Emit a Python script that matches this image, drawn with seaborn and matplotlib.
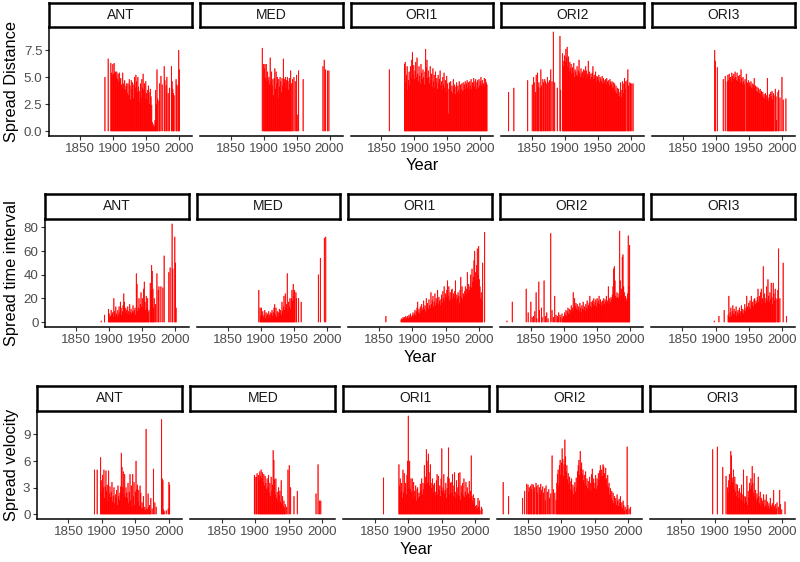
import numpy as np
import pandas as pd
import matplotlib
matplotlib.use("Agg")
import matplotlib.pyplot as plt
import seaborn as sns

# theme first, then the font list (set_theme resets font.family)
sns.set_theme(style="white")
plt.rcParams['font.family'] = ['Liberation Sans', 'DejaVu Sans']

regions = ["ANT", "MED", "ORI1", "ORI2", "ORI3"]
measures = ["Spread Distance", "Spread time interval", "Spread velocity"]
year_ticks = [1850, 1900, 1950, 2000]
dist_ticks = [0, 2.5, 5.0, 7.5]
dist_tick_labels = ["0.0", "2.5", "5.0", "7.5"]
time_ticks = [0, 20, 40, 60, 80]
time_tick_labels = ["0", "20", "40", "60", "80"]
vel_ticks = [0, 3, 6, 9]
vel_tick_labels = ["0", "3", "6", "9"]

# one value per year from the start year on; 0 = nothing recorded that year
# ---- Spread Distance
ant_dist_start = 1888
ant_dist = [5.0, 0, 0, 0, 0, 6.7, 0, 0, 0,
            6.3, 5.4, 5.2, 6.2, 5.3, 6.3, 5.4, 5.5, 5.0, 5.5,
            4.8, 5.3, 4.6, 5.4, 4.7, 4.9, 4.3, 4.0, 5.4, 4.4,
            3.9, 4.7, 3.8, 4.2, 4.4, 3.5, 4.4, 3.3, 4.8, 4.2,
            2.9, 4.7, 3.9, 4.5, 3.0, 4.3, 5.0, 4.0, 5.2, 4.6,
            3.6, 5.0, 4.1, 3.7, 2.7, 4.4, 3.1, 4.8, 4.0, 5.3,
            3.8, 4.4, 3.0, 4.6, 3.5, 2.9, 3.8, 4.2, 3.6, 2.5,
            3.9, 3.2, 2.4,
            0.8, 0.3, 0.6, 0.4, 1.0,
            3.8, 2.5, 5.7, 3.0, 0, 2.8, 4.4, 0, 5.1, 0, 4.3,
            0, 0, 6.0, 4.7, 0, 4.2, 5.0, 0, 3.5, 0, 4.0, 0, 0,
            6.0, 4.6, 3.9, 3.5, 3.3, 0, 0, 4.8, 4.3, 0, 4.2, 7.5, 5.7]

med_dist_start = 1898
med_dist = [7.7, 0, 6.2, 5.8, 6.2, 4.9, 6.2, 4.6, 5.5, 4.7,
            5.0, 4.3, 6.8, 4.6, 5.5, 4.2, 4.8, 3.3, 4.9, 5.8,
            3.9, 5.5, 4.4, 5.0, 3.0, 4.8, 4.1, 5.0, 4.6, 3.6,
            4.9, 4.2, 6.7, 4.5, 4.8, 5.0, 4.0, 4.7, 5.0, 4.6,
            3.8, 4.9, 4.3, 5.6, 4.4, 0, 4.8, 0, 5.0, 0,
            4.6, 0, 5.2, 1.5, 0, 5.6, 0, 0, 0, 0,
            0, 0, 4.8, 0, 0,
            0, 0, 0, 0, 0, 0, 0, 0, 0, 0, 0, 0, 0, 0,
            0, 0, 0, 0, 0, 0, 0, 0, 0, 0, 0, 0, 0,
            6.0, 0, 6.6, 0, 5.7, 0, 0, 5.6, 0, 5.6]

ori1_dist_start = 1862
ori1_dist = [5.7,
             0, 0, 0, 0, 0, 0, 0, 0, 0, 0, 0, 0, 0, 0, 0, 0, 0, 0, 0, 0, 0, 0,
             6.2, 6.4, 4.5, 5.2, 6.0, 3.8, 4.7, 5.5, 4.2, 6.0,
             4.9, 6.6, 7.3, 5.2, 6.1, 4.8, 5.6, 6.4, 5.0, 6.8,
             5.3, 4.6, 6.0, 5.1, 4.4, 6.2, 5.4, 4.8, 5.7, 5.0,
             4.3, 5.5, 7.6, 5.9, 6.6, 4.9, 5.6, 5.0, 4.4, 6.0,
             4.7, 5.3, 4.1, 5.8, 4.6, 5.2, 4.0, 5.5, 4.5, 4.9,
             3.9, 5.2, 4.4, 4.8, 5.6, 4.2, 4.6, 3.8, 5.0, 4.3,
             5.4, 4.0, 4.7, 3.6, 5.1, 4.4, 3.9, 1.6, 4.5, 4.0,
             4.6, 3.7, 4.2, 3.5, 4.8, 3.9, 4.3, 3.4, 4.1, 4.5,
             3.6, 4.2, 3.8, 4.6, 3.5, 4.3, 3.9, 4.4, 3.7, 4.5,
             3.8, 4.3, 4.6, 3.9, 4.4, 4.7, 4.0, 4.5, 3.8, 4.6,
             4.2, 4.8, 3.9, 4.5, 4.4, 4.9, 4.1, 4.6, 4.8, 3.9,
             4.5, 4.7, 4.0, 4.8, 4.2, 4.6, 5.0, 4.3, 4.7, 4.1,
             4.4, 4.9, 4.2, 4.8, 4.5, 4.3]

ori2_dist_start = 1813
ori2_dist = [0, 3.6, 0, 0, 0, 0, 0, 0, 0, 4.0,
             0, 0, 0, 0, 0, 0, 0, 0, 0, 0,
             0, 0, 0, 0, 0, 0, 0, 0, 0, 0,
             4.7, 0, 0, 0, 0, 0, 0,
             4.3, 0, 5.0, 4.5, 0, 3.6, 5.2, 0, 5.4, 4.1,
             4.5, 0, 4.0, 5.7, 4.2, 0, 4.8, 4.5, 0, 4.8,
             4.6, 0, 4.4, 5.0, 0, 4.5, 4.7, 0, 5.7, 0,
             4.6, 0, 9.2, 0, 4.5, 0, 0, 0, 4.0, 0,
             0, 0, 8.8, 3.8, 0, 0, 7.2, 6.0, 6.5, 7.0,
             6.4, 7.6, 6.8, 7.8, 6.0, 6.9, 5.5, 6.4, 5.8, 6.2,
             5.3, 5.9, 5.4, 6.3, 5.0, 5.7, 5.5, 5.2, 6.0, 5.1,
             5.6, 6.6, 5.4, 5.0, 5.8, 5.3, 5.5, 4.9, 5.7, 5.6,
             5.2, 6.0, 5.6, 4.9, 5.3, 6.5, 5.1, 5.5, 4.8, 5.3,
             5.0, 5.4, 6.0, 4.8, 5.2, 4.9, 5.5, 4.6, 5.1, 5.0,
             4.7, 5.2, 4.5, 5.0, 4.8, 4.6, 5.1, 4.4, 4.9, 4.7,
             4.5, 4.8, 4.3, 4.9, 4.6, 4.4, 4.7, 4.2, 4.8, 4.5,
             4.3, 4.6, 4.0, 4.5, 3.9, 4.4, 3.7, 4.2, 3.5, 4.0,
             3.4, 3.9, 3.2, 3.6, 4.5, 3.1, 3.8, 4.6, 3.5, 4.4,
             4.9, 3.9, 4.6, 0, 4.7, 5.7, 4.2, 0, 4.5, 4.4,
             0, 4.4, 0, 4.4]

ori3_dist_start = 1898
ori3_dist = [7.5, 6.5, 0, 0, 5.9, 0, 0, 0, 0, 0,
             0, 0, 0, 4.8, 0, 0, 5.1, 0, 0, 4.6,
             5.2, 4.7, 5.3, 4.9, 5.0, 4.6, 5.4, 5.1, 4.8, 5.3,
             4.9, 5.5, 5.0, 4.7, 5.4, 4.6, 5.1, 4.8, 5.2, 4.5,
             5.7, 4.9, 4.4, 5.0, 4.6, 4.3, 4.8, 0, 5.3, 4.5,
             4.4, 4.7, 4.1, 4.5, 4.2, 4.6, 4.0, 4.4, 3.9, 4.3,
             4.9, 4.0, 4.2, 3.7, 4.1, 3.6, 4.0, 3.8, 3.5, 3.9,
             3.4, 3.7, 3.2, 3.6, 3.1, 3.4, 3.0, 3.5, 2.9, 3.3,
             4.9, 3.1, 2.8, 3.4, 3.0, 3.6, 3.2, 3.7, 2.9, 3.5,
             3.3, 0, 3.9, 3.2, 1.0, 0, 3.6, 3.8, 0, 3.1,
             0, 0, 5.0, 0, 2.9, 0, 0, 0, 3.0]

# ---- Spread time interval
ant_time_start = 1888
ant_time = [1, 0, 0, 0, 0, 6, 0, 0, 0, 0,
            0, 11, 7, 4, 5, 10, 6, 8, 4, 20,
            9, 5, 13, 7, 4, 10, 6, 13, 8, 17,
            12, 6, 9, 14, 24, 17, 8, 12, 10, 7,
            13, 9, 6, 15, 8, 11, 7, 9, 14, 8,
            10, 12, 6, 41, 32, 9, 12, 20, 11, 15,
            25, 13, 20, 12, 28, 34, 17, 10, 22, 12,
            20, 8, 10, 0, 33, 27, 48, 43, 28, 12,
            20, 0, 15, 0, 41, 0, 27, 30, 0, 0,
            30, 0, 0, 29, 0, 56, 0, 0, 0, 0,
            0, 0, 42, 0, 46, 0, 0, 83, 45, 0,
            0, 72, 50, 12]

med_time_start = 1897
med_time = [27, 0, 12, 5, 12, 6, 9, 4, 6, 10,
            3, 8, 5, 7, 4, 9, 6, 3, 8, 7,
            10, 5, 8, 12, 15, 6, 12, 4, 9, 5,
            8, 11, 7, 10, 6, 17, 9, 13, 22, 10,
            24, 12, 15, 41, 9, 17, 13, 20, 11, 20,
            27, 18, 32, 22, 27, 0, 25, 20, 0, 0,
            20, 0, 0, 0, 17, 0, 0, 0, 0, 0,
            0, 0, 0, 0, 0, 0, 0, 0, 0, 0,
            0, 0, 0, 0, 0, 0, 0, 0, 0, 0,
            40, 0, 0, 54, 0, 0, 0, 0, 0, 71,
            0, 72]

ori1_time_start = 1860
ori1_time = [5,
             0, 0, 0, 0, 0, 0, 0, 0, 0, 0, 0, 0, 0, 0, 0, 0, 0, 0, 0, 0, 0, 0,
             2, 3, 2, 4, 3, 4, 2, 5, 3, 4,
             5, 3, 6, 4, 7, 5, 4, 6, 8, 5,
             7, 10, 6, 9, 12, 17, 8, 11, 7, 13,
             9, 15, 10, 12, 18, 11, 14, 9, 20, 13,
             16, 11, 19, 14, 12, 25, 15, 18, 22, 13,
             17, 24, 14, 20, 16, 27, 15, 21, 18, 14,
             19, 23, 16, 26, 20, 30, 17, 24, 21, 27,
             35, 22, 30, 18, 25, 20, 27, 28, 19, 24,
             21, 26, 35, 18, 23, 20, 25, 22, 16, 27,
             38, 21, 30, 19, 24, 22, 26, 30, 23, 28,
             42, 25, 32, 27, 30, 40, 29, 45, 34, 38,
             52, 60, 42, 35, 48, 62, 40, 64, 36, 30,
             20, 25, 18, 50, 0, 0, 76]

ori2_time_start = 1814
ori2_time = [1, 0, 0, 0, 0, 0, 0, 0, 17, 0,
             0, 0, 0, 0, 0, 0, 0, 0, 0, 0,
             0, 0, 0, 0, 0, 0, 0, 0, 0, 28,
             0, 0, 8, 0, 0, 0,
             17, 0, 4, 0, 5, 0, 9, 0, 25, 3,
             0, 0, 34, 10, 0, 0, 12, 4, 0, 0,
             35, 0, 5, 0, 8, 0, 3, 0, 0, 0,
             75, 0, 10, 0, 4, 0, 22, 0, 6, 0,
             5, 3, 8, 0, 6, 4, 0, 7, 3, 5,
             4, 8, 6, 10, 5, 9, 12, 7, 11, 6,
             10, 14, 8, 12, 25, 9, 20, 13, 16, 11,
             15, 10, 13, 9, 16, 12, 8, 14, 11, 17,
             10, 13, 9, 15, 12, 18, 11, 14, 16, 22,
             13, 17, 12, 18, 15, 20, 14, 17, 19, 13,
             20, 16, 18, 22, 15, 19, 17, 14, 18, 16,
             20, 15, 19, 17, 22, 16, 18, 30, 15, 20,
             17, 21, 19, 23, 30, 45, 47, 35, 22, 20,
             25, 21, 20, 24, 77, 35, 22, 28, 55, 57,
             30, 25, 20, 22, 18, 20, 24, 73, 30, 65]

ori3_time_start = 1898
ori3_time = [1, 0, 0, 0, 0, 0, 0, 5, 0, 0,
             0, 0, 0, 0, 0, 10, 0, 0, 0, 0,
             0, 6, 22, 4, 8, 12, 5, 9, 14, 7,
             11, 6, 9, 13, 5, 8, 10, 7, 12, 6,
             9, 14, 8, 11, 7, 10, 15, 9, 12, 22,
             13, 10, 16, 12, 18, 11, 22, 14, 17, 13,
             19, 20, 15, 18, 16, 21, 28, 17, 22, 19,
             25, 28, 15, 20, 47, 18, 24, 16, 20, 30,
             18, 36, 22, 17, 25, 19, 33, 21, 15, 33,
             24, 18, 28, 20, 0, 19, 27, 62, 0, 20,
             0, 0, 0, 0, 50, 0, 0, 0, 0, 5]

# ---- Spread velocity
ant_vel_start = 1888
ant_vel = [0, 5.0, 0, 0, 0, 5.0, 0, 0, 0, 0,
           6.4, 3.8, 2.5, 4.4, 3.0, 5.0, 1.8, 3.1, 4.9, 2.6,
           3.3, 1.5, 4.9, 2.3, 3.1, 1.9, 2.5, 3.6, 1.4, 2.0,
           3.0, 1.2, 2.2, 1.8, 2.7, 1.0, 3.2, 2.0, 1.6, 2.4,
           3.1, 6.9, 5.3, 3.0, 4.8, 2.2, 4.5, 1.9, 3.0, 2.4,
           1.8, 3.5, 1.2, 2.5, 4.5, 1.5, 3.2, 0.8, 4.5, 2.0,
           3.6, 1.0, 2.5, 6.0, 2.8, 3.3, 1.4, 2.7, 0.9, 3.2,
           2.4, 0.6, 1.3, 0.7, 2.0, 0.5, 0.8, 0.4, 9.6, 0.6,
           0.5, 2.3, 0.8, 1.0, 0.4, 1.8, 0, 0.6, 0, 5.1,
           0, 1.3, 0, 0.8, 0, 0, 0, 0, 0, 0,
           0, 10.7, 4.0, 3.8, 0.5, 0.3, 0, 0, 0.4, 0,
           0, 0.6, 3.6, 3.3]

med_vel_start = 1899
med_vel = [4.4, 4.2, 0, 4.2, 4.6, 0, 4.4, 3.8, 4.8, 4.3,
           5.0, 4.0, 4.7, 3.6, 4.5, 3.2, 4.3, 3.5, 2.8, 4.0,
           3.0, 4.4, 2.4, 3.5, 2.0, 4.2, 2.6, 3.3, 7.2, 6.1,
           3.9, 2.2, 4.0, 1.8, 2.5, 1.5, 3.0, 2.1, 2.6, 1.4,
           3.8, 1.2, 2.0, 0.9, 1.5, 0.7, 1.1, 0, 0.8, 0,
           5.0, 0, 5.5, 0, 3.0, 0, 0, 0, 0, 2.0,
           0, 0, 0, 0, 2.6, 0, 0, 0, 0, 0,
           0, 0, 0, 0, 0, 0, 0, 0, 0, 0,
           0, 0, 0, 0, 0, 0, 0, 0, 0, 0,
           0, 0, 2.3, 0, 0, 5.6, 0, 1.5, 0, 1.5]

ori1_vel_start = 1863
ori1_vel = [4.1,
            0, 0, 0, 0, 0, 0, 0, 0, 0, 0, 0, 0, 0, 0, 0, 0, 0, 0, 0, 0, 0, 0,
            5.6, 3.2, 4.0, 2.5, 3.5, 1.8, 5.0, 2.4, 4.6, 3.0,
            3.5, 2.2, 4.4, 6.0, 11.1, 3.0, 6.0, 2.8, 4.0, 2.5,
            4.0, 1.8, 3.6, 2.6, 2.0, 3.2, 1.5, 2.8, 3.0, 1.8,
            2.4, 2.0, 3.4, 2.6, 4.0, 2.2, 3.5, 2.8, 5.5, 3.3,
            4.2, 7.3, 6.0, 3.5, 6.8, 4.7, 3.2, 5.6, 3.5, 2.9,
            4.0, 2.4, 3.3, 3.5, 2.1, 2.5, 3.8, 4.5, 2.2, 4.3,
            2.7, 3.2, 2.0, 4.0, 7.4, 2.6, 3.0, 4.5, 2.3, 2.7,
            3.5, 1.8, 2.9, 4.2, 7.5, 4.0, 2.2, 3.5, 3.6, 2.4,
            4.5, 2.0, 3.2, 4.7, 2.5, 1.8, 3.8, 2.2, 3.0, 4.6,
            2.0, 4.7, 1.6, 3.2, 2.4, 3.5, 2.1, 4.0, 1.9, 2.5,
            3.6, 2.1, 3.0, 2.4, 2.2, 3.7, 1.8, 2.6, 6.6, 2.0,
            1.5, 2.2, 1.2, 1.8, 0.9, 0.5, 1.0, 0.6, 1.8, 0.8,
            1.5, 0.4, 0, 0.8, 0.6]

ori2_vel_start = 1813
ori2_vel = [3.6, 0, 0, 0, 0, 0, 0, 0, 2.0, 0,
            0, 0, 0, 0, 0, 0, 0, 0, 0, 0,
            0, 0, 0, 0, 0, 0, 0, 0, 0, 1.8,
            0, 0, 2.6, 0, 0, 3.4, 0,
            3.3, 2.5, 3.0, 0, 3.2, 2.8, 3.4, 0, 3.3, 2.6,
            3.0, 0, 3.5, 3.1, 2.4, 3.3, 0, 3.0, 2.2, 3.4,
            2.7, 0, 3.1, 2.4, 0, 2.9, 1.5, 3.2, 0, 2.5,
            0, 2.8, 1.8, 0, 2.3, 0, 6.6, 0, 2.8, 0,
            2.4, 0, 1.6, 3.5, 4.5, 5.0, 3.2, 5.5, 6.1, 4.4,
            5.8, 7.4, 6.2, 4.3, 5.6, 8.4, 6.5, 4.8, 5.5, 3.9,
            4.6, 3.4, 4.2, 2.8, 3.7, 4.0, 2.6, 3.3, 2.2, 3.0,
            3.6, 2.5, 4.1, 3.0, 4.8, 5.5, 6.1, 4.4, 7.1, 5.2,
            5.8, 4.5, 5.0, 3.8, 4.4, 3.4, 4.8, 3.2, 4.0, 2.9,
            3.7, 2.8, 4.2, 3.5, 2.6, 4.5, 5.1, 3.6, 4.0, 2.9,
            3.5, 4.4, 2.8, 4.0, 3.2, 4.6, 3.8, 4.9, 5.5, 4.2,
            5.0, 4.3, 5.6, 5.4, 4.6, 3.8, 5.2, 4.0, 3.2, 4.4,
            3.0, 3.5, 2.2, 2.9, 1.8, 2.6, 1.5, 2.4, 1.2, 2.0,
            1.4, 1.8, 1.0, 2.2, 1.5, 0.9, 1.7, 1.2, 2.0, 0.8,
            1.3, 0.6, 1.5, 1.0, 0.4, 0.8, 0, 0.5, 7.6, 1.0,
            0, 0.6, 0, 0.8]

ori3_vel_start = 1897
ori3_vel = [7.3, 0, 0, 0, 0, 0, 0, 7.6, 0, 0,
            0, 0, 0, 0, 0, 5.3, 0, 0, 0, 0,
            4.3, 0, 3.0, 2.4, 3.8, 4.5, 3.2, 7.1, 6.6, 4.1,
            3.6, 5.0, 2.8, 4.2, 2.5, 3.4, 2.0, 3.3, 2.6, 1.8,
            2.9, 1.6, 2.4, 3.3, 1.5, 2.2, 5.0, 1.2, 2.0, 1.9,
            1.4, 4.3, 1.0, 2.6, 1.9, 3.5, 2.8, 4.0, 3.2, 5.4,
            3.5, 2.4, 4.6, 2.0, 2.7, 1.5, 2.3, 1.8, 4.2, 2.0,
            1.2, 2.5, 0.9, 1.8, 1.5, 1.1, 2.2, 0.8, 1.6, 1.0,
            2.2, 0.7, 1.4, 0.9, 1.2, 0.6, 1.8, 1.0, 0.8, 1.2,
            0.5, 2.7, 0.9, 0.4, 1.1, 0.6, 1.3, 0, 0.8, 0,
            2.7, 1.1, 0, 0.5, 0, 0, 0, 0, 1.4, 0]

series = {
    ("Spread Distance", "ANT"): (ant_dist_start, ant_dist),
    ("Spread Distance", "MED"): (med_dist_start, med_dist),
    ("Spread Distance", "ORI1"): (ori1_dist_start, ori1_dist),
    ("Spread Distance", "ORI2"): (ori2_dist_start, ori2_dist),
    ("Spread Distance", "ORI3"): (ori3_dist_start, ori3_dist),
    ("Spread time interval", "ANT"): (ant_time_start, ant_time),
    ("Spread time interval", "MED"): (med_time_start, med_time),
    ("Spread time interval", "ORI1"): (ori1_time_start, ori1_time),
    ("Spread time interval", "ORI2"): (ori2_time_start, ori2_time),
    ("Spread time interval", "ORI3"): (ori3_time_start, ori3_time),
    ("Spread velocity", "ANT"): (ant_vel_start, ant_vel),
    ("Spread velocity", "MED"): (med_vel_start, med_vel),
    ("Spread velocity", "ORI1"): (ori1_vel_start, ori1_vel),
    ("Spread velocity", "ORI2"): (ori2_vel_start, ori2_vel),
    ("Spread velocity", "ORI3"): (ori3_vel_start, ori3_vel),
}

rows = []
for (m, r), (start, vals) in series.items():
    for i, v in enumerate(vals):
        if v > 0:
            rows.append((m, r, start + i, v))
df = pd.DataFrame(rows, columns=["measure", "region", "year", "value"])

ticks = {
    "Spread Distance": (dist_ticks, dist_tick_labels),
    "Spread time interval": (time_ticks, time_tick_labels),
    "Spread velocity": (vel_ticks, vel_tick_labels),
}

W, H = 800, 562
fig = plt.figure(figsize=(8, 5.62), dpi=100)

# pixel layout of each row: panel left, strip top, panel top, panel bottom
row_geo = [(49, 3, 27, 136), (45, 194, 219, 327), (37, 386, 411, 519)]
right, gap = 795, 8

# x range shared by all rows: data span plus 5% either side
x_lo, x_hi = df.year.min(), df.year.max()
x_pad = 0.05 * (x_hi - x_lo)

for m, (left, s_top, p_top, p_bot) in zip(measures, row_geo):
    sub = df[df.measure == m]
    ymax = sub.value.max()
    pw = (right - left - 4 * gap) / 5
    for j, reg in enumerate(regions):
        x0 = left + j * (pw + gap)
        ax = fig.add_axes([x0 / W, 1 - p_bot / H, pw / W, (p_bot - p_top) / H])
        d = sub[sub.region == reg]
        sns.histplot(data=d, x="year", weights="value", discrete=True, shrink=0.9,
                     color="red", alpha=1, edgecolor="red", linewidth=0.35,
                     ax=ax, snap=False)
        # empty years come back as zero-height bins; hide them
        for p in ax.patches:
            if p.get_height() == 0:
                p.set_visible(False)
        ax.set_xlim(x_lo - x_pad, x_hi + x_pad)
        ax.set_ylim(-0.05 * ymax, 1.05 * ymax)
        ax.set_xlabel("")
        ax.set_ylabel("")
        ax.set_xticks(year_ticks)
        ax.tick_params(axis="x", bottom=True, length=2.7, width=0.8, color="#333333",
                       labelsize=9.6, labelcolor="#4D4D4D", pad=2)
        for s in ["top", "right"]:
            ax.spines[s].set_visible(False)
        ax.spines["bottom"].set_color("black")
        ax.spines["bottom"].set_linewidth(1.1)
        if j == 0:
            yt, yl = ticks[m]
            ax.set_yticks(yt)
            ax.set_yticklabels(yl)
            ax.tick_params(axis="y", left=True, length=2.7, width=0.8, color="#333333",
                           labelsize=9.6, labelcolor="#4D4D4D", pad=2)
            ax.spines["left"].set_color("black")
            ax.spines["left"].set_linewidth(1.1)
        else:
            ax.spines["left"].set_visible(False)
            ax.tick_params(axis="y", left=False, labelleft=False)

        # facet strip
        sax = fig.add_axes([x0 / W, 1 - p_top / H, pw / W, (p_top - s_top) / H])
        sax.set_xticks([])
        sax.set_yticks([])
        for s in sax.spines.values():
            s.set_visible(True)
            s.set_color("black")
            s.set_linewidth(1.8)
        sax.text(0.5, 0.5, reg, ha="center", va="center", fontsize=10, color="#1A1A1A")

    fig.text(12 / W, 1 - (p_top + p_bot) / 2 / H, m, rotation=90, ha="center",
             va="center", fontsize=11.8, color="black")
    fig.text((left + right) / 2 / W, 1 - (p_bot + 30) / H, "Year", ha="center",
             va="center", fontsize=11.8, color="black")

fig.savefig("out.png", dpi=100, facecolor="white")
